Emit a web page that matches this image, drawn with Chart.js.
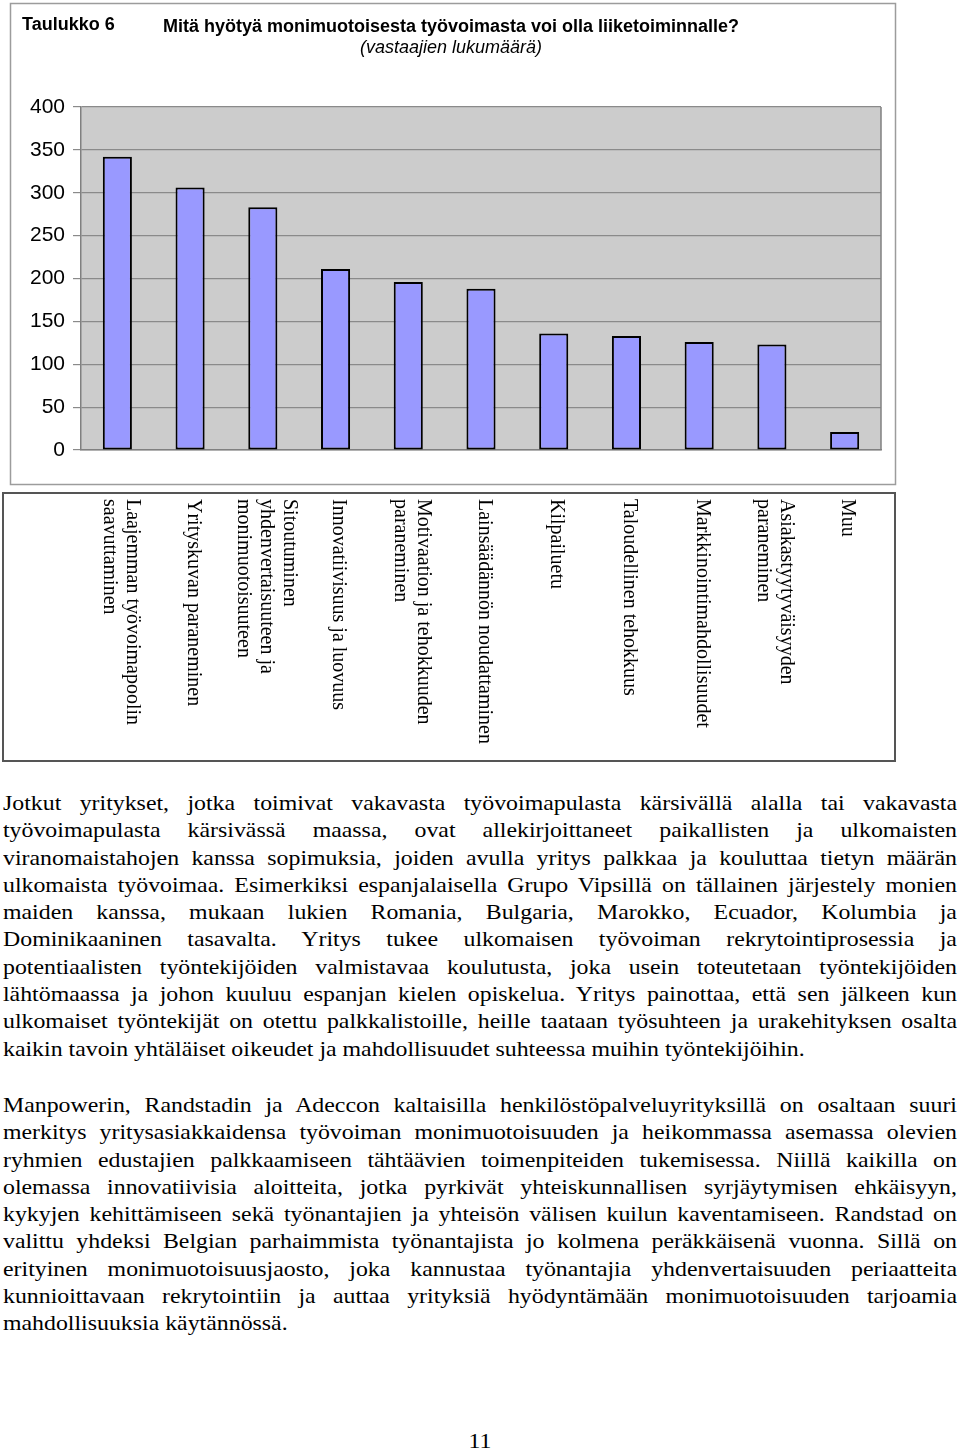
<!DOCTYPE html>
<html lang="fi">
<head>
<meta charset="utf-8">
<script src="https://cdn.jsdelivr.net/npm/chart.js@4.4.1/dist/chart.umd.min.js"></script>
<style>
html,body{margin:0;padding:0;background:#fff;width:960px;height:1451px;overflow:hidden;}
#wrap{position:absolute;left:0;top:0;width:960px;height:770px;}
.para{position:absolute;left:3px;width:840.5px;transform-origin:0 0;transform:scaleX(1.135);font-family:"Liberation Serif","Times New Roman",serif;font-size:21px;line-height:27.3px;color:#000;}
.para div{text-align:justify;text-align-last:justify;white-space:nowrap;}
.para div.last{text-align-last:left;}
#pagenum{position:absolute;left:0;width:960px;text-align:center;top:1428px;transform-origin:480px 0;transform:scaleX(1.135);font-family:"Liberation Serif","Times New Roman",serif;font-size:21px;line-height:27.3px;color:#000;}
</style>
</head>
<body>
<div id="wrap"><canvas id="c"></canvas></div>

<div class="para" style="top:790px">
<div>Jotkut yritykset, jotka toimivat vakavasta työvoimapulasta kärsivällä alalla tai vakavasta</div>
<div>työvoimapulasta kärsivässä maassa, ovat allekirjoittaneet paikallisten ja ulkomaisten</div>
<div>viranomaistahojen kanssa sopimuksia, joiden avulla yritys palkkaa ja kouluttaa tietyn määrän</div>
<div>ulkomaista työvoimaa. Esimerkiksi espanjalaisella Grupo Vipsillä on tällainen järjestely monien</div>
<div>maiden kanssa, mukaan lukien Romania, Bulgaria, Marokko, Ecuador, Kolumbia ja</div>
<div>Dominikaaninen tasavalta. Yritys tukee ulkomaisen työvoiman rekrytointiprosessia ja</div>
<div>potentiaalisten työntekijöiden valmistavaa koulutusta, joka usein toteutetaan työntekijöiden</div>
<div>lähtömaassa ja johon kuuluu espanjan kielen opiskelua. Yritys painottaa, että sen jälkeen kun</div>
<div>ulkomaiset työntekijät on otettu palkkalistoille, heille taataan työsuhteen ja urakehityksen osalta</div>
<div class="last">kaikin tavoin yhtäläiset oikeudet ja mahdollisuudet suhteessa muihin työntekijöihin.</div>
</div>

<div class="para" style="top:1092px">
<div>Manpowerin, Randstadin ja Adeccon kaltaisilla henkilöstöpalveluyrityksillä on osaltaan suuri</div>
<div>merkitys yritysasiakkaidensa työvoiman monimuotoisuuden ja heikommassa asemassa olevien</div>
<div>ryhmien edustajien palkkaamiseen tähtäävien toimenpiteiden tukemisessa. Niillä kaikilla on</div>
<div>olemassa innovatiivisia aloitteita, jotka pyrkivät yhteiskunnallisen syrjäytymisen ehkäisyyn,</div>
<div>kykyjen kehittämiseen sekä työnantajien ja yhteisön välisen kuilun kaventamiseen. Randstad on</div>
<div>valittu yhdeksi Belgian parhaimmista työnantajista jo kolmena peräkkäisenä vuonna. Sillä on</div>
<div>erityinen monimuotoisuusjaosto, joka kannustaa työnantajia yhdenvertaisuuden periaatteita</div>
<div>kunnioittavaan rekrytointiin ja auttaa yrityksiä hyödyntämään monimuotoisuuden tarjoamia</div>
<div class="last">mahdollisuuksia käytännössä.</div>
</div>

<div id="pagenum">11</div>

<script>
const tableLabel = 'Taulukko 6';
const titleText = 'Mitä hyötyä monimuotoisesta työvoimasta voi olla liiketoiminnalle?';
const subtitleText = '(vastaajien lukumäärä)';
const categories = [
  ['Laajemman työvoimapoolin', 'saavuttaminen'],
  ['Yrityskuvan paraneminen'],
  ['Sitoutuminen', 'yhdenvertaisuuteen ja', 'monimuotoisuuteen'],
  ['Innovatiivisuus ja luovuus'],
  ['Motivaation ja tehokkuuden', 'paraneminen'],
  ['Lainsäädännön noudattaminen'],
  ['Kilpailuetu'],
  ['Taloudellinen tehokkuus'],
  ['Markkinointimahdollisuudet'],
  ['Asiakastyytyväisyyden', 'paraneminen'],
  ['Muu']
];
const values = [342, 306, 283, 211, 196, 188, 136, 133, 126, 123, 21];
const yTicks = [0, 50, 100, 150, 200, 250, 300, 350, 400];

const SANS = '"Liberation Sans", Arial, sans-serif';
const SERIF = '"Liberation Serif", "Times New Roman", serif';

const decor = {
  id: 'decor',
  beforeDraw(chart) {
    const ctx = chart.ctx, a = chart.chartArea;
    ctx.save();
    ctx.fillStyle = '#ffffff';
    ctx.fillRect(0, 0, chart.width, chart.height);
    ctx.strokeStyle = '#9c9c9c';
    ctx.lineWidth = 1.5;
    ctx.strokeRect(10.5, 3.5, 885, 481);
    ctx.strokeStyle = '#555555';
    ctx.lineWidth = 2;
    ctx.strokeRect(3, 493, 892, 268);
    ctx.fillStyle = '#cccccc';
    ctx.fillRect(a.left, a.top, a.right - a.left, a.bottom - a.top);
    ctx.restore();
  },
  afterDraw(chart) {
    const ctx = chart.ctx, a = chart.chartArea;
    ctx.save();
    ctx.strokeStyle = '#808080';
    ctx.lineWidth = 1.5;
    ctx.beginPath();
    ctx.moveTo(a.right, a.top);
    ctx.lineTo(a.right, a.bottom);
    ctx.stroke();
    ctx.fillStyle = '#000';
    ctx.font = 'bold 18px ' + SANS;
    ctx.textAlign = 'left';
    ctx.textBaseline = 'alphabetic';
    ctx.fillText(tableLabel, 22, 30);
    const xs = chart.scales.x;
    ctx.font = '20px ' + SERIF;
    ctx.textBaseline = 'middle';
    const lh = 23;
    categories.forEach((lines, i) => {
      const x = xs.getPixelForValue(i) + 3;
      ctx.save();
      ctx.translate(x, 499);
      ctx.rotate(Math.PI / 2);
      const n = lines.length;
      lines.forEach((ln, j) => {
        ctx.fillText(ln, 0, (j - (n - 1) / 2) * lh);
      });
      ctx.restore();
    });
    ctx.restore();
  }
};

new Chart(document.getElementById('c'), {
  type: 'bar',
  data: {
    labels: categories,
    datasets: [{
      data: values,
      backgroundColor: '#9999ff',
      borderColor: '#000000',
      borderWidth: 2,
      borderSkipped: false,
      categoryPercentage: 1,
      barPercentage: 0.4
    }]
  },
  options: {
    responsive: true,
    maintainAspectRatio: false,
    animation: false,
    devicePixelRatio: 1,
    layout: { padding: { left: 21, right: 79, top: 0, bottom: 320 } },
    plugins: {
      legend: { display: false },
      tooltip: { enabled: false },
      title: {
        display: true,
        text: titleText,
        color: '#000',
        font: { family: SANS, size: 18, weight: 'bold', lineHeight: 0.9 },
        padding: { top: 19, bottom: 0 }
      },
      subtitle: {
        display: true,
        text: subtitleText,
        color: '#000',
        font: { family: SANS, size: 18, style: 'italic', lineHeight: 0.9 },
        padding: { top: 4.8, bottom: 50.8 }
      }
    },
    scales: {
      x: {
        type: 'category',
        ticks: { display: false },
        grid: { display: false, drawTicks: false },
        border: { display: true, color: '#808080', width: 1.5 }
      },
      y: {
        min: 0,
        max: 400,
        afterBuildTicks(scale) { scale.ticks = yTicks.map(v => ({ value: v })); },
        afterFit(scale) { scale.width = 60; },
        ticks: { color: '#000', padding: 8, font: { family: SANS, size: 21 } },
        grid: { color: '#8a8a8a', lineWidth: 1.2, drawTicks: true, tickLength: 8 },
        border: { display: true, color: '#808080', width: 1.5 }
      }
    }
  },
  plugins: [decor]
});
</script>
</body>
</html>
